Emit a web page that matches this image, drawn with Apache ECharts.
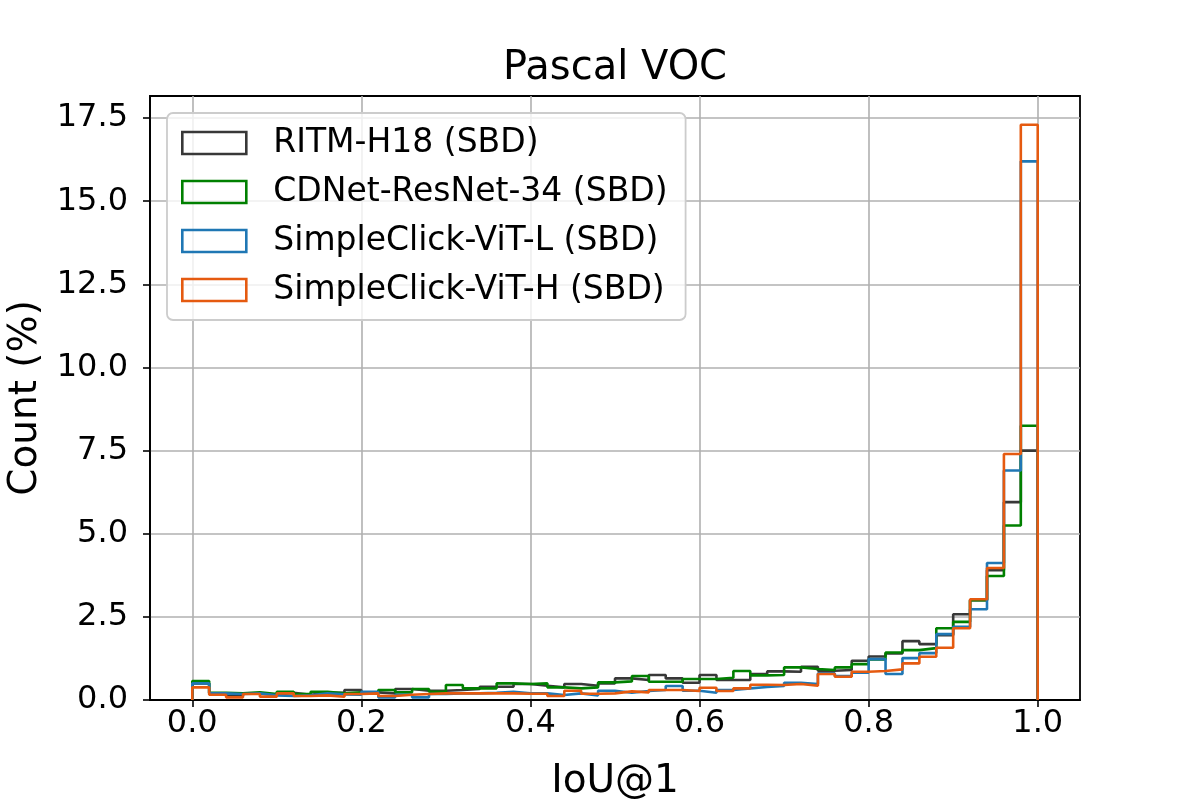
<!DOCTYPE html>
<html>
<head>
<meta charset="utf-8">
<script src="https://cdn.jsdelivr.net/npm/echarts@6/dist/echarts.min.js"></script>
<style>
html,body{margin:0;padding:0;background:#fff;}
#chart{width:1200px;height:800px;}
</style>
</head>
<body>
<div id="chart"></div>
<script>
// Histogram bins: 50 bins of width 0.02 over [0, 1]
const binCount = 50;
const binWidth = 0.02;
const binEdges = Array.from({length: binCount + 1}, (_, i) => +(i * binWidth).toFixed(2));

const seriesNames = ['RITM-H18 (SBD)', 'CDNet-ResNet-34 (SBD)', 'SimpleClick-ViT-L (SBD)', 'SimpleClick-ViT-H (SBD)'];

const ritmH18 = [
  0.50, 0.20, 0.13, 0.20, 0.16, 0.22, 0.16, 0.22, 0.22, 0.30,
  0.23, 0.20, 0.33, 0.28, 0.28, 0.30, 0.33, 0.40, 0.40, 0.48,
  0.43, 0.38, 0.48, 0.43, 0.50, 0.65, 0.60, 0.75, 0.65, 0.52,
  0.75, 0.60, 0.60, 0.78, 0.86, 0.85, 1.00, 0.88, 0.90, 1.18,
  1.31, 1.40, 1.77, 1.68, 1.95, 2.58, 3.00, 3.90, 5.95, 7.50
];
const cdnetResNet34 = [
  0.57, 0.22, 0.20, 0.23, 0.18, 0.25, 0.18, 0.25, 0.20, 0.23,
  0.20, 0.30, 0.23, 0.33, 0.25, 0.45, 0.35, 0.35, 0.50, 0.48,
  0.50, 0.38, 0.35, 0.38, 0.53, 0.56, 0.72, 0.55, 0.55, 0.63,
  0.63, 0.67, 0.87, 0.74, 0.75, 0.98, 0.93, 0.90, 0.98, 1.08,
  1.22, 1.43, 1.50, 1.56, 2.16, 2.35, 3.00, 3.73, 5.25, 8.25
];
const simpleClickViTL = [
  0.50, 0.20, 0.18, 0.20, 0.14, 0.12, 0.14, 0.20, 0.17, 0.16,
  0.25, 0.08, 0.16, 0.08, 0.18, 0.20, 0.20, 0.22, 0.25, 0.20,
  0.20, 0.15, 0.20, 0.14, 0.28, 0.22, 0.27, 0.30, 0.42, 0.28,
  0.22, 0.30, 0.35, 0.39, 0.42, 0.52, 0.48, 0.80, 0.72, 0.82,
  1.23, 0.78, 1.26, 1.41, 1.98, 2.20, 2.73, 4.12, 6.90, 16.20
];
const simpleClickViTH = [
  0.38, 0.16, 0.08, 0.18, 0.10, 0.20, 0.12, 0.14, 0.10, 0.18,
  0.20, 0.12, 0.16, 0.18, 0.20, 0.20, 0.20, 0.20, 0.20, 0.19,
  0.19, 0.12, 0.28, 0.19, 0.20, 0.26, 0.23, 0.30, 0.30, 0.27,
  0.37, 0.27, 0.35, 0.46, 0.45, 0.48, 0.43, 0.78, 0.70, 0.85,
  0.87, 0.92, 1.10, 1.30, 1.57, 2.16, 3.03, 3.97, 7.40, 17.30
];

const xTicks = [0.0, 0.2, 0.4, 0.6, 0.8, 1.0];
const yTicks = [0.0, 2.5, 5.0, 7.5, 10.0, 12.5, 15.0, 17.5];

const colors = ['#383838', '#008000', '#1f77b4', '#e55a10'];
const allValues = [ritmH18, cdnetResNet34, simpleClickViTL, simpleClickViTH];

// step outline (matplotlib histtype='step')
function stepPoints(vals) {
  const pts = [[binEdges[0], 0]];
  vals.forEach((v, i) => {
    pts.push([binEdges[i], v]);
    pts.push([binEdges[i + 1], v]);
  });
  pts.push([binEdges[binCount], 0]);
  return pts;
}

const FONT = 'DejaVu Sans';
const chart = echarts.init(document.getElementById('chart'), null, {renderer: 'canvas'});

const series = allValues.map((vals, k) => ({
  name: seriesNames[k],
  type: 'line',
  data: stepPoints(vals),
  showSymbol: false,
  symbol: 'none',
  lineStyle: {color: colors[k], width: 2.6},
  itemStyle: {color: 'rgba(0,0,0,0)', borderColor: colors[k], borderWidth: 2.6},
  animation: false,
  z: 3 + k,
  clip: true
}));

chart.setOption({
  animation: false,
  backgroundColor: '#ffffff',
  title: {
    text: 'Pascal VOC',
    left: 610,
    textAlign: 'center',
    top: 44,
    textStyle: {fontFamily: FONT, fontSize: 40, fontWeight: 'normal', color: '#000'}
  },
  grid: {
    left: 150, right: 120, top: 96, bottom: 100,
    outerBoundsMode: 'none',
    containLabel: false,
    show: true, borderColor: '#000', borderWidth: 1.8, backgroundColor: 'transparent'
  },
  legend: {
    orient: 'vertical',
    left: 167, top: 113,
    data: seriesNames.map((n, k) => ({
      name: n,
      icon: 'rect',
      itemStyle: {color: 'rgba(0,0,0,0)', borderColor: colors[k], borderWidth: 2.6}
    })),
    itemWidth: 64,
    itemHeight: 22,
    itemGap: 13,
    padding: [12, 18, 12, 14],
    backgroundColor: 'rgba(255,255,255,0.8)',
    borderColor: '#cccccc',
    borderWidth: 1.8,
    borderRadius: 6,
    textStyle: {fontFamily: FONT, fontSize: 33, color: '#000', lineHeight: 36, padding: [0, 0, 0, 22]}
  },
  xAxis: {
    type: 'value',
    min: -0.05, max: 1.05,
    name: 'IoU@1',
    nameLocation: 'middle',
    nameGap: 62,
    nameTextStyle: {fontFamily: FONT, fontSize: 39, color: '#000'},
    axisLine: {show: true, onZero: false, lineStyle: {color: '#000', width: 1.8}},
    axisTick: {show: true, inside: false, length: 7, customValues: xTicks, lineStyle: {color: '#000', width: 1.6}},
    axisLabel: {show: true, customValues: xTicks, margin: 8, fontFamily: FONT, fontSize: 32, color: '#000',
      formatter: v => v.toFixed(1)},
    splitLine: {show: true, lineStyle: {color: '#b0b0b0', width: 1.6}}
  },
  yAxis: {
    type: 'value',
    min: 0, max: 18.165,
    name: 'Count (%)',
    nameLocation: 'middle',
    nameGap: 104,
    nameTextStyle: {fontFamily: FONT, fontSize: 39, color: '#000'},
    axisLine: {show: true, onZero: false, lineStyle: {color: '#000', width: 1.8}},
    axisTick: {show: true, inside: false, length: 7, customValues: yTicks, lineStyle: {color: '#000', width: 1.6}},
    axisLabel: {show: true, customValues: yTicks, margin: 22, fontFamily: FONT, fontSize: 32, color: '#000',
      formatter: v => v.toFixed(1)},
    splitLine: {show: true, lineStyle: {color: '#b0b0b0', width: 1.6}}
  },
  series: series
});
</script>
</body>
</html>
